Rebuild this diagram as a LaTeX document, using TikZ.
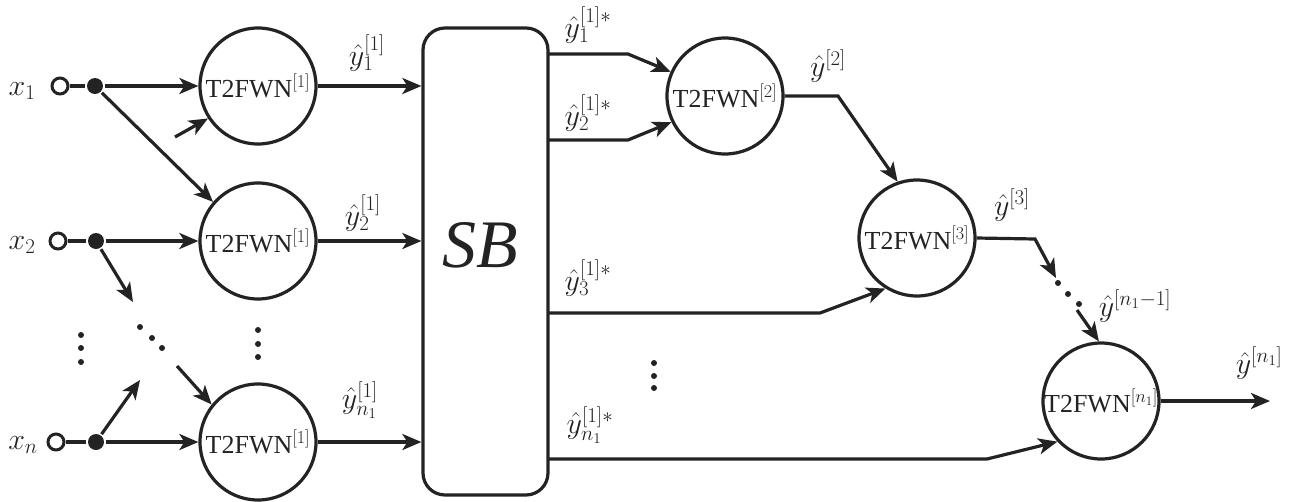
\RequirePackage{fix-cm}
\documentclass[tikz,border=0pt]{standalone}
\usepackage{fontspec}
\setmainfont{Liberation Serif}
\usetikzlibrary{arrows.meta}
\definecolor{ink}{RGB}{35,35,35}
\begin{document}
\begin{tikzpicture}[x=1pt,y=-1pt,line width=3.2pt,draw=ink,
  neuron/.style={circle,draw=ink,line width=3.2pt,minimum size=116pt,inner sep=0pt,text=ink,font=\fontsize{26}{26}\selectfont},
  opendot/.style={circle,draw=ink,fill=white,line width=3pt,minimum size=16pt,inner sep=0pt},
  fdot/.style={circle,fill=ink,minimum size=16pt,inner sep=0pt},
  dotc/.style={circle,fill=ink,minimum size=6pt,inner sep=0pt},
  arr/.style={draw=ink,-{Stealth[length=19pt,width=16pt,inset=5pt]}},
  lab/.style={inner sep=0pt,text=ink,font=\fontsize{30}{30}\selectfont},
  ]
\useasboundingbox (0,0) rectangle (1291,501);
% inputs
\node[lab] (x1) at (22,91) {$x_1$};
\node[lab] (x2) at (22,245) {$x_2$};
\node[lab] (xn) at (23,445) {$x_n$};
\node[opendot] (o1) at (60,86) {};
\node[opendot] (o2) at (58,241) {};
\node[opendot] (on) at (56,442) {};
\node[fdot] (d1) at (95,86) {};
\node[fdot] (d2) at (96,241) {};
\node[fdot] (dn) at (96,442) {};
% first layer
\node[neuron] (a1) at (258,86) {T2FWN$^{[1]}$};
\node[neuron] (a2) at (258,241) {T2FWN$^{[1]}$};
\node[neuron] (an) at (258,442) {T2FWN$^{[1]}$};
% SB
\node[draw=ink,line width=3.2pt,rounded corners=22pt,minimum width=125pt,minimum height=467pt,inner sep=0pt] (sb) at (485.5,261.5) {};
\node[text=ink,font=\fontsize{68}{68}\selectfont\itshape] (sbt) at (480,245) {SB};
% later layers
\node[neuron] (b2) at (725,96) {T2FWN$^{[2]}$};
\node[neuron] (c3) at (917,238) {T2FWN$^{[3]}$};
\node[neuron] (cn) at (1101,401) {T2FWN$^{[n_1]}$};
% dots
\foreach \i/\p in {1/{(81,335)},2/{(81,348)},3/{(81,362)},
                   4/{(258,330)},5/{(258,344)},6/{(258,357)},
                   7/{(140,327)},8/{(152,338)},9/{(162,348)},
                   10/{(654,363)},11/{(654,376)},12/{(654,388)},
                   13/{(1058,283)},14/{(1068,294)},15/{(1079,304)}}
  \node[dotc] (dot\i) at \p {};
% input connectors
\draw (o1) -- (d1);
\draw (o2) -- (d2);
\draw (on) -- (dn);
\draw[arr] (d1) -- (a1);
\draw[arr] (d1) -- (a2.139);
\coordinate (f1) at (175,137);
\draw[arr] (f1) -- (a1.213);
\draw[arr] (d2) -- (a2);
\coordinate (f2) at (133,302);
\draw[arr] (d2) -- (f2);
\coordinate (f3) at (177,366);
\draw[arr] (f3) -- (an.141);
\draw[arr] (dn) -- (an);
\coordinate (f4) at (140,380);
\draw[arr] (dn) -- (f4);
% to SB
\draw[arr] (a1) -- (a1 -| sb.west);
\draw[arr] (a2) -- (a2 -| sb.west);
\draw[arr] (an) -- (an -| sb.west);
\node[lab] (l1) at (367,53) {$\hat{y}_1^{[1]}$};
\node[lab] (l2) at (363,213) {$\hat{y}_2^{[1]}$};
\node[lab] (ln) at (360,400) {$\hat{y}_{n_1}^{[1]}$};
% from SB
\coordinate (s1) at (548,54);  \coordinate (k1) at (628,54);
\coordinate (s2) at (548,140); \coordinate (k2) at (628,140);
\coordinate (s3) at (548,313); \coordinate (k3) at (820,313);
\coordinate (s4) at (548,459); \coordinate (k4) at (987,459);
\draw[arr] (s1) -- (k1) -- (b2.156);
\draw[arr] (s2) -- (k2) -- (b2.206);
\draw[arr] (s3) -- (k3) -- (c3.238);
\draw[arr] (s4) -- (k4) -- (cn.223);
\node[lab] (m1) at (588,25) {$\hat{y}_1^{[1]*}$};
\node[lab] (m2) at (588,113) {$\hat{y}_2^{[1]*}$};
\node[lab] (m3) at (588,278) {$\hat{y}_3^{[1]*}$};
\node[lab] (mn) at (590,425) {$\hat{y}_{n_1}^{[1]*}$};
% chain
\coordinate (k5) at (838,96);
\draw[arr] (b2.east) -- (k5) -- (c3.109);
\coordinate (k6) at (1035,239);
\coordinate (f5) at (1056,278);
\draw[arr] (c3.east) -- (k6) -- (f5);
\coordinate (f6) at (1077,310);
\draw[arr] (f6) -- (cn.92);
\coordinate (f7) at (1270,401);
\draw[arr] (cn) -- (f7);
\node[lab] (r2) at (828,66) {$\hat{y}^{[2]}$};
\node[lab] (r3) at (1012,205) {$\hat{y}^{[3]}$};
\node[lab] (r4) at (1135,306) {$\hat{y}^{[n_1-1]}$};
\node[lab] (r5) at (1259,363) {$\hat{y}^{[n_1]}$};
\end{tikzpicture}
\end{document}
